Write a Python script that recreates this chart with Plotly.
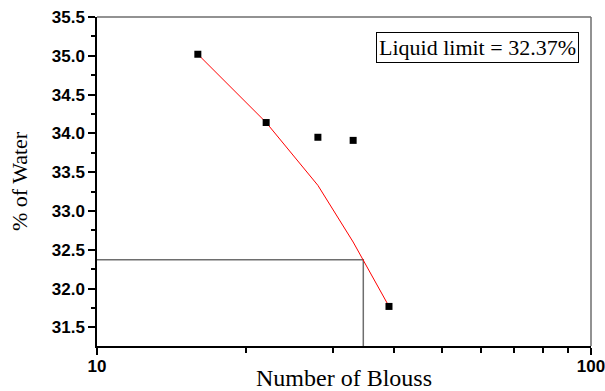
import plotly.graph_objects as go

# Data
blows = [16, 22, 28, 33, 39]
water = [35.02, 34.14, 33.95, 33.91, 31.77]
fit_blows = [16, 22, 28, 33, 39]
fit_water = [35.02, 34.14, 33.33, 32.60, 31.77]
liquid_limit = 32.37
ll_blows = 34.6
y_min, y_max = 31.26, 35.5
x_major = [10, 100]
x_minor = [20, 30, 40, 50, 60, 70, 80, 90]
y_ticks = [31.5, 32.0, 32.5, 33.0, 33.5, 34.0, 34.5, 35.0, 35.5]

fig = go.Figure()
fig.add_trace(go.Scatter(
    x=[x_major[0], ll_blows, ll_blows], y=[liquid_limit, liquid_limit, y_min],
    mode="lines", line=dict(color="#6e6e6e", width=1.5), showlegend=False, hoverinfo="skip"))
fig.add_trace(go.Scatter(
    x=fit_blows, y=fit_water, mode="lines",
    line=dict(color="red", width=1), showlegend=False))
fig.add_trace(go.Scatter(
    x=blows, y=water, mode="markers",
    marker=dict(symbol="square", size=7, color="black"), showlegend=False))

axis_font = dict(family="Liberation Sans, Arial", size=17, color="black")
fig.update_layout(
    width=605, height=391,
    margin=dict(l=97, r=14, t=17, b=45, autoexpand=False),
    plot_bgcolor="white", paper_bgcolor="white",
    xaxis=dict(
        type="log", range=[1, 2], automargin=False, ticklabeloverflow="allow",
        ticklabelstandoff=-3,
        tickmode="array", tickvals=x_major, ticktext=[f"<b>{v}</b>" for v in x_major],
        ticks="outside", ticklen=7, tickwidth=1.5, tickcolor="black",
        minor=dict(tickmode="array", tickvals=x_minor, ticks="outside", ticklen=5,
                   tickwidth=1.5, tickcolor="black", showgrid=False),
        showline=True, linecolor="black", linewidth=1.5, showgrid=False, zeroline=False,
        tickfont=axis_font,
        title=dict(text="Number of Blouss", font=dict(family="Liberation Serif, Times New Roman", size=24, color="black"), standoff=0),
    ),
    yaxis=dict(
        range=[y_min, y_max], automargin=False, ticklabeloverflow="allow",
        tickmode="array", tickvals=y_ticks, ticktext=[f"<b>{v:.1f}</b>" for v in y_ticks],
        ticks="outside", ticklen=7, tickwidth=1.5, tickcolor="black",
        minor=dict(dtick=0.25, tick0=0, ticks="outside", ticklen=4, tickwidth=1.5,
                   tickcolor="black", showgrid=False),
        showline=True, linecolor="black", linewidth=1.5, showgrid=False, zeroline=False,
        tickfont=axis_font,
        title=dict(text="% of Water", font=dict(family="Liberation Serif, Times New Roman", size=22, color="black"), standoff=18),
    ),
    shapes=[
        dict(type="line", xref="paper", yref="paper", x0=0, x1=1, y0=1, y1=1,
             line=dict(color="#6e6e6e", width=1.5)),
        dict(type="line", xref="paper", yref="paper", x0=1, x1=1, y0=0, y1=1,
             line=dict(color="#6e6e6e", width=1.5)),
    ],
    annotations=[dict(
        xref="paper", yref="paper", x=0.975, y=0.955, xanchor="right", yanchor="top",
        text=f"Liquid limit = {liquid_limit}%", showarrow=False,
        font=dict(family="Liberation Serif, Times New Roman", size=22, color="black"),
        bordercolor="black", borderwidth=1, borderpad=2, bgcolor="white")],
)
fig.write_html("out.html", config={"displayModeBar": False},
               post_script="document.body.style.margin='0px';")
